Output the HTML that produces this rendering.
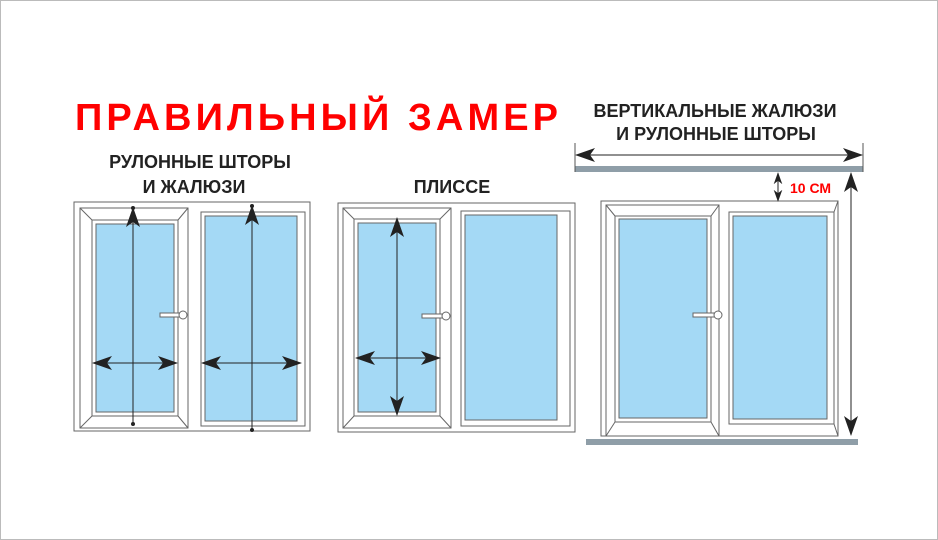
<!DOCTYPE html>
<html><head><meta charset="utf-8"><style>
html,body{margin:0;padding:0;background:#fff}
svg{display:block}
text{font-family:"Liberation Sans",sans-serif;font-weight:bold}
</style></head><body>
<svg width="938" height="540" viewBox="0 0 938 540" xmlns="http://www.w3.org/2000/svg">
<defs>
<marker id="ah" viewBox="0 0 20 14" refX="19" refY="7" markerWidth="20" markerHeight="14" markerUnits="userSpaceOnUse" orient="auto-start-reverse">
<path d="M0,0 L20,7 L0,14 L5,7 Z" fill="#222"/>
</marker>
<marker id="as" viewBox="0 0 14 10" refX="13" refY="5" markerWidth="12" markerHeight="9" markerUnits="userSpaceOnUse" orient="auto-start-reverse">
<path d="M0,0 L14,5 L0,10 L4,5 Z" fill="#222"/>
</marker>
</defs>
<rect x="0.5" y="0.5" width="937" height="539" fill="#fff" stroke="#bbb"/>

<text x="75" y="130" font-size="38" fill="#f00" textLength="483" lengthAdjust="spacing">ПРАВИЛЬНЫЙ  ЗАМЕР</text>
<g fill="#222" font-size="18" text-anchor="middle">
<text x="200" y="168">РУЛОННЫЕ ШТОРЫ</text>
<text x="194" y="193">И ЖАЛЮЗИ</text>
<text x="452" y="193">ПЛИССЕ</text>
<text x="715" y="117">ВЕРТИКАЛЬНЫЕ ЖАЛЮЗИ</text>
<text x="716" y="140">И РУЛОННЫЕ ШТОРЫ</text>
</g>
<text x="790" y="193" font-size="14" fill="#f00">10 СМ</text>

<g stroke="#666" stroke-width="1" fill="#fff">
<rect x="74" y="202" width="236" height="229"/>
<rect x="80" y="208" width="108" height="220"/>
<rect x="92" y="220" width="86" height="196"/>
<line x1="80" y1="208" x2="92" y2="220"/><line x1="188" y1="208" x2="178" y2="220"/>
<line x1="80" y1="428" x2="92" y2="416"/><line x1="188" y1="428" x2="178" y2="416"/>
<rect x="96" y="224" width="78" height="188" fill="#a4d9f5"/>
<rect x="201" y="212" width="104" height="214"/>
<rect x="205" y="216" width="92" height="205" fill="#a4d9f5"/>
<rect x="160" y="313" width="22" height="4" fill="#fff"/>
<circle cx="183" cy="315" r="4" fill="#fff"/>

<rect x="338" y="203" width="237" height="229"/>
<rect x="343" y="208" width="108" height="220"/>
<rect x="354" y="219" width="86" height="197"/>
<line x1="343" y1="208" x2="354" y2="219"/><line x1="451" y1="208" x2="440" y2="219"/>
<line x1="343" y1="428" x2="354" y2="416"/><line x1="451" y1="428" x2="440" y2="416"/>
<rect x="358" y="223" width="78" height="189" fill="#a4d9f5"/>
<rect x="461" y="211" width="109" height="215"/>
<rect x="465" y="215" width="92" height="205" fill="#a4d9f5"/>
<rect x="422" y="314" width="22" height="4" fill="#fff"/>
<circle cx="446" cy="316" r="4" fill="#fff"/>

<rect x="601" y="201" width="237" height="235"/>
<rect x="606" y="205" width="113" height="231"/>
<rect x="615" y="216" width="96" height="206"/>
<line x1="606" y1="205" x2="615" y2="216"/><line x1="719" y1="205" x2="711" y2="216"/>
<line x1="606" y1="436" x2="615" y2="422"/><line x1="719" y1="436" x2="711" y2="422"/>
<rect x="619" y="219" width="88" height="199" fill="#a4d9f5"/>
<rect x="729" y="212" width="105" height="212"/>
<rect x="733" y="216" width="94" height="203" fill="#a4d9f5"/>
<line x1="834" y1="212" x2="838" y2="201"/><line x1="834" y1="424" x2="838" y2="436"/>
<rect x="693" y="313" width="24" height="4" fill="#fff"/>
<circle cx="718" cy="315" r="4" fill="#fff"/>
</g>

<rect x="575" y="166" width="288" height="6" fill="#8f9ea8"/>
<rect x="586" y="439" width="272" height="6" fill="#8f9ea8"/>
<g stroke="#555" stroke-width="1">
<line x1="575" y1="143" x2="575" y2="172"/>
<line x1="863" y1="143" x2="863" y2="172"/>
</g>

<g stroke="#222" stroke-width="1" fill="none">
<line x1="133" y1="424" x2="133" y2="208" marker-end="url(#ah)"/>
<line x1="252" y1="430" x2="252" y2="206" marker-end="url(#ah)"/>
<line x1="93" y1="363" x2="177" y2="363" marker-start="url(#ah)" marker-end="url(#ah)"/>
<line x1="202" y1="363" x2="301" y2="363" marker-start="url(#ah)" marker-end="url(#ah)"/>
<line x1="397" y1="218" x2="397" y2="415" marker-start="url(#ah)" marker-end="url(#ah)"/>
<line x1="356" y1="358" x2="440" y2="358" marker-start="url(#ah)" marker-end="url(#ah)"/>
<line x1="576" y1="155" x2="862" y2="155" marker-start="url(#ah)" marker-end="url(#ah)"/>
<line x1="778" y1="173" x2="778" y2="201" marker-start="url(#as)" marker-end="url(#as)"/>
<line x1="851" y1="173" x2="851" y2="435" marker-start="url(#ah)" marker-end="url(#ah)"/>
</g>
<g fill="#222">
<circle cx="133" cy="208" r="2"/><circle cx="133" cy="424" r="2"/>
<circle cx="252" cy="206" r="2"/><circle cx="252" cy="430" r="2"/>
</g>
</svg>
</body></html>
